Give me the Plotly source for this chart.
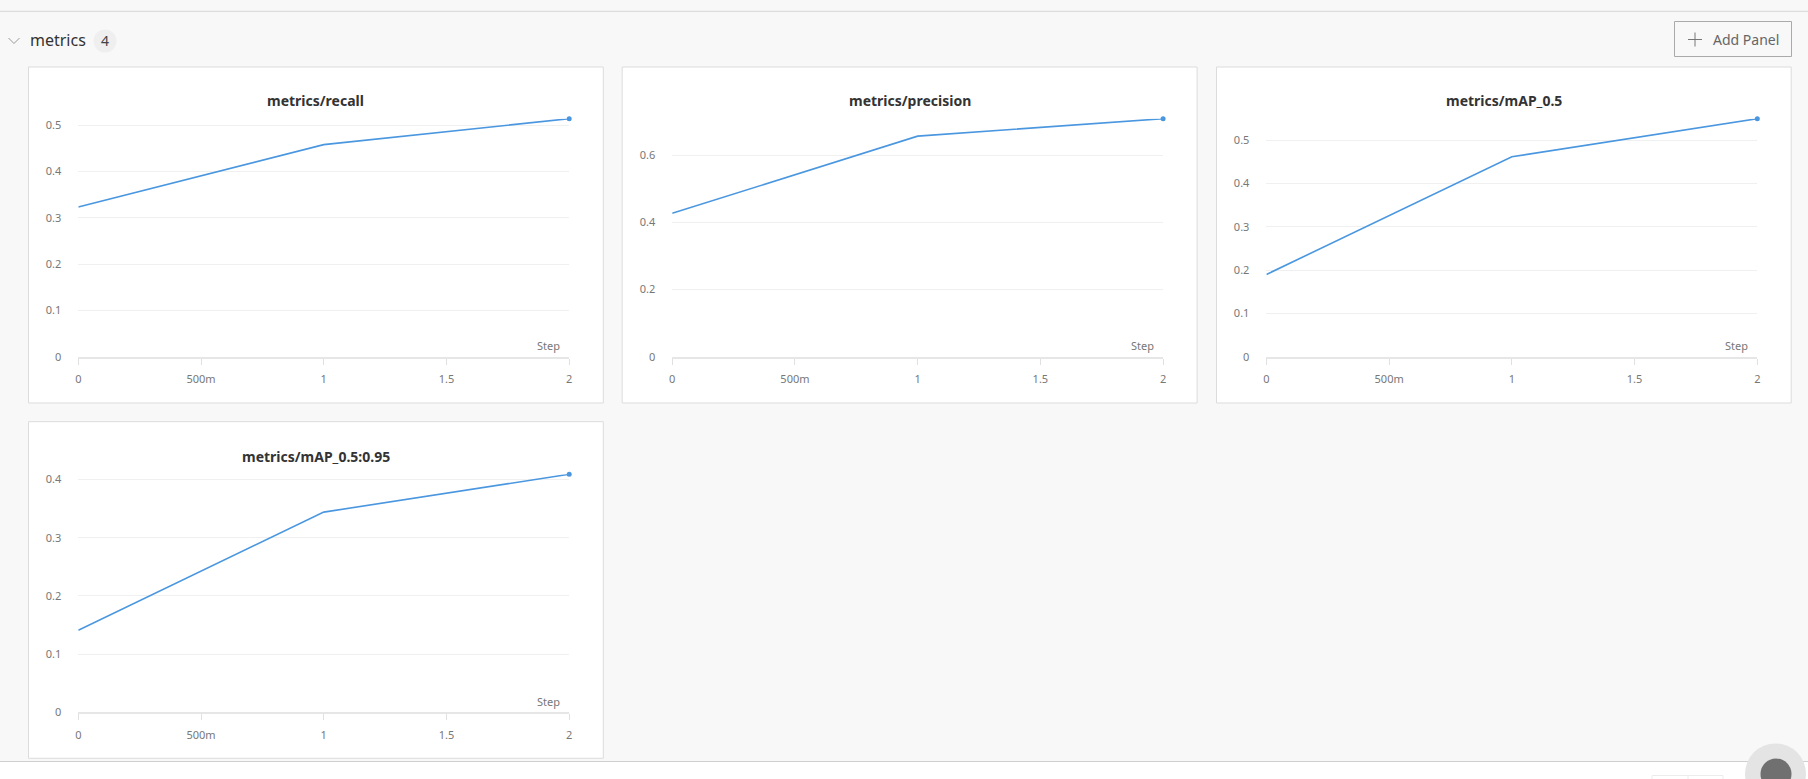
import plotly.graph_objects as go

steps = [0, 1, 2]
recall = [0.3235, 0.458, 0.514]
precision = [0.427, 0.657, 0.709]
map50 = [0.190, 0.462, 0.550]
map5095 = [0.141, 0.344, 0.409]

titles = ["metrics/recall", "metrics/precision", "metrics/mAP_0.5", "metrics/mAP_0.5:0.95"]
series = [recall, precision, map50, map5095]
ydticks = [0.1, 0.2, 0.1, 0.1]
xtickvals = [0, 0.5, 1, 1.5, 2]
xticktext = ["0", "500m", "1", "1.5", "2"]

W, H = 1808, 779
LINE = "#4a97e0"
FONT = "Noto Sans"

plot_px = [(78.3, 569.2, 118.7, 356.7),
           (672.2, 1163.1, 118.7, 356.7),
           (1266.4, 1757.3, 118.7, 356.7),
           (78.3, 569.2, 474.3, 712.3)]
panel_px = [(28.5, 603.3, 67, 403), (622.2, 1197.1, 67, 403), (1216.5, 1791.2, 67, 403), (28.5, 603.3, 421.7, 758.3)]

fig = go.Figure()
shapes = []
annotations = []

def px_x(v):
    return v / W

def px_y(v):
    return 1 - v / H

shapes.append(dict(type="line", xref="paper", yref="paper", x0=0, x1=1, y0=px_y(11.3), y1=px_y(11.3),
                   line=dict(color="#d6d6d6", width=1)))
shapes.append(dict(type="rect", xref="paper", yref="paper", x0=0, x1=1, y0=0, y1=px_y(761.5),
                   fillcolor="#ffffff", line=dict(width=0), layer="below"))
shapes.append(dict(type="line", xref="paper", yref="paper", x0=0, x1=1, y0=px_y(761.5), y1=px_y(761.5),
                   line=dict(color="#cfcfcf", width=1)))
# faint button group at bottom
shapes.append(dict(type="rect", xref="paper", yref="paper", x0=px_x(1652), x1=px_x(1723), y0=px_y(790), y1=px_y(775.5),
                   fillcolor="#ffffff", line=dict(color="#ececec", width=1)))
shapes.append(dict(type="line", xref="paper", yref="paper", x0=px_x(1688), x1=px_x(1688), y0=px_y(779), y1=px_y(775.5),
                   line=dict(color="#ececec", width=1)))
shapes.append(dict(type="path", xref="paper", yref="paper",
                   path=f"M {px_x(8.5)} {px_y(38)} L {px_x(14)} {px_y(43.5)} L {px_x(19.5)} {px_y(38)}",
                   line=dict(color="#9a9a9a", width=1)))
shapes.append(dict(type="circle", xref="paper", yref="paper", x0=px_x(93.5), x1=px_x(116.5), y0=px_y(52.5), y1=px_y(29.5),
                   fillcolor="#efefef", line=dict(width=0)))
annotations.append(dict(text="metrics", x=px_x(27.5), y=px_y(40.5), xref="paper", yref="paper", xanchor="left",
                        yanchor="middle", showarrow=False, font=dict(family=FONT, size=16, color="#333333")))
annotations.append(dict(text="4", x=px_x(105), y=px_y(40.5), xref="paper", yref="paper", xanchor="center",
                        yanchor="middle", showarrow=False, font=dict(family=FONT, size=14, color="#444444")))
shapes.append(dict(type="rect", xref="paper", yref="paper", x0=px_x(1674.5), x1=px_x(1791.5), y0=px_y(56.5), y1=px_y(21.5),
                   fillcolor="#f8f8f8", line=dict(color="#aaaaaa", width=1)))
shapes.append(dict(type="line", xref="paper", yref="paper", x0=px_x(1688), x1=px_x(1702), y0=px_y(39.5), y1=px_y(39.5),
                   line=dict(color="#777777", width=1)))
shapes.append(dict(type="line", xref="paper", yref="paper", x0=px_x(1695), x1=px_x(1695), y0=px_y(32.5), y1=px_y(46.5),
                   line=dict(color="#777777", width=1)))
annotations.append(dict(text="Add Panel", x=px_x(1711), y=px_y(40), xref="paper", yref="paper", xanchor="left",
                        yanchor="middle", showarrow=False, font=dict(family=FONT, size=14, color="#666666")))
shapes.append(dict(type="circle", xref="paper", yref="paper", x0=px_x(1745), x1=px_x(1806), y0=px_y(804), y1=px_y(743.5),
                   fillcolor="#e4e4e4", line=dict(width=0)))
shapes.append(dict(type="circle", xref="paper", yref="paper", x0=px_x(1760.5), x1=px_x(1791.5), y0=px_y(789.5), y1=px_y(758.5),
                   fillcolor="#707070", line=dict(width=0)))

for i, (title, vals, dt) in enumerate(zip(titles, series, ydticks)):
    n = "" if i == 0 else str(i + 1)
    l, r, t, b = plot_px[i]
    pl, pr, pt, pb = panel_px[i]
    shapes.append(dict(type="rect", xref="paper", yref="paper", x0=px_x(pl), x1=px_x(pr), y0=px_y(pb), y1=px_y(pt),
                       fillcolor="#ffffff", line=dict(color="#dcdcdc", width=1), layer="below"))
    annotations.append(dict(text="<b>" + title + "</b>", x=(px_x(pl) + px_x(pr)) / 2, y=px_y(t - 18),
                            xref="paper", yref="paper", xanchor="center", yanchor="middle", showarrow=False,
                            font=dict(family=FONT, size=14, color="#333333")))
    annotations.append(dict(text="Step", x=1, y=0, xref=f"x{n} domain", yref=f"y{n} domain", xanchor="right",
                            yanchor="middle", xshift=-7, yshift=11, showarrow=False,
                            font=dict(family=FONT, size=11, color="#777777")))
    fig.add_trace(go.Scatter(x=steps, y=vals, mode="lines", line=dict(color=LINE, width=1.6),
                             xaxis=f"x{n}", yaxis=f"y{n}", showlegend=False, hoverinfo="skip", cliponaxis=False))
    fig.add_trace(go.Scatter(x=steps[-1:], y=vals[-1:], mode="markers", marker=dict(color=LINE, size=5),
                             xaxis=f"x{n}", yaxis=f"y{n}", showlegend=False, hoverinfo="skip", cliponaxis=False))
    xdom = [px_x(l), px_x(r)]
    ydom = [px_y(b), px_y(t)]
    fig.layout[f"xaxis{n}"] = dict(domain=xdom, anchor=f"y{n}", range=[0, 2], tickvals=xtickvals, ticktext=xticktext,
                                   showgrid=False, zeroline=False, showline=True, linecolor="#e6e6e6", linewidth=2,
                                   ticks="outside", ticklen=6, tickcolor="#e0e0e0", tickwidth=1, ticklabelstandoff=5,
                                   automargin=False,
                                   tickfont=dict(family=FONT, size=11, color="#777777"), fixedrange=True)
    fig.layout[f"yaxis{n}"] = dict(domain=ydom, anchor=f"x{n}", range=[0, max(vals)], dtick=dt, tick0=0,
                                   showgrid=True, gridcolor="#f0f0f0", gridwidth=1, zeroline=False, showline=False,
                                   ticks="", ticklabelstandoff=16, automargin=False,
                                   tickfont=dict(family=FONT, size=11, color="#777777"), fixedrange=True)
    k = 5 + i
    fig.layout[f"xaxis{k}"] = dict(domain=xdom, anchor=f"y{n}", overlaying=f"x{n}", range=[0, 2], tickvals=xtickvals,
                                   showticklabels=False, showgrid=False, zeroline=False, showline=False,
                                   automargin=False,
                                   ticks="inside", ticklen=6, tickcolor="#e0e0e0", tickwidth=1, fixedrange=True)

fig.update_layout(width=W, height=H, margin=dict(l=0, r=0, t=0, b=0, pad=0, autoexpand=False),
                  paper_bgcolor="#f8f8f8",
                  plot_bgcolor="rgba(0,0,0,0)", shapes=shapes, annotations=annotations,
                  font=dict(family=FONT))

fig.write_html("out.html", config={"displayModeBar": False, "responsive": False},
               post_script="document.body.style.margin='0px';document.body.style.overflow='hidden';")
